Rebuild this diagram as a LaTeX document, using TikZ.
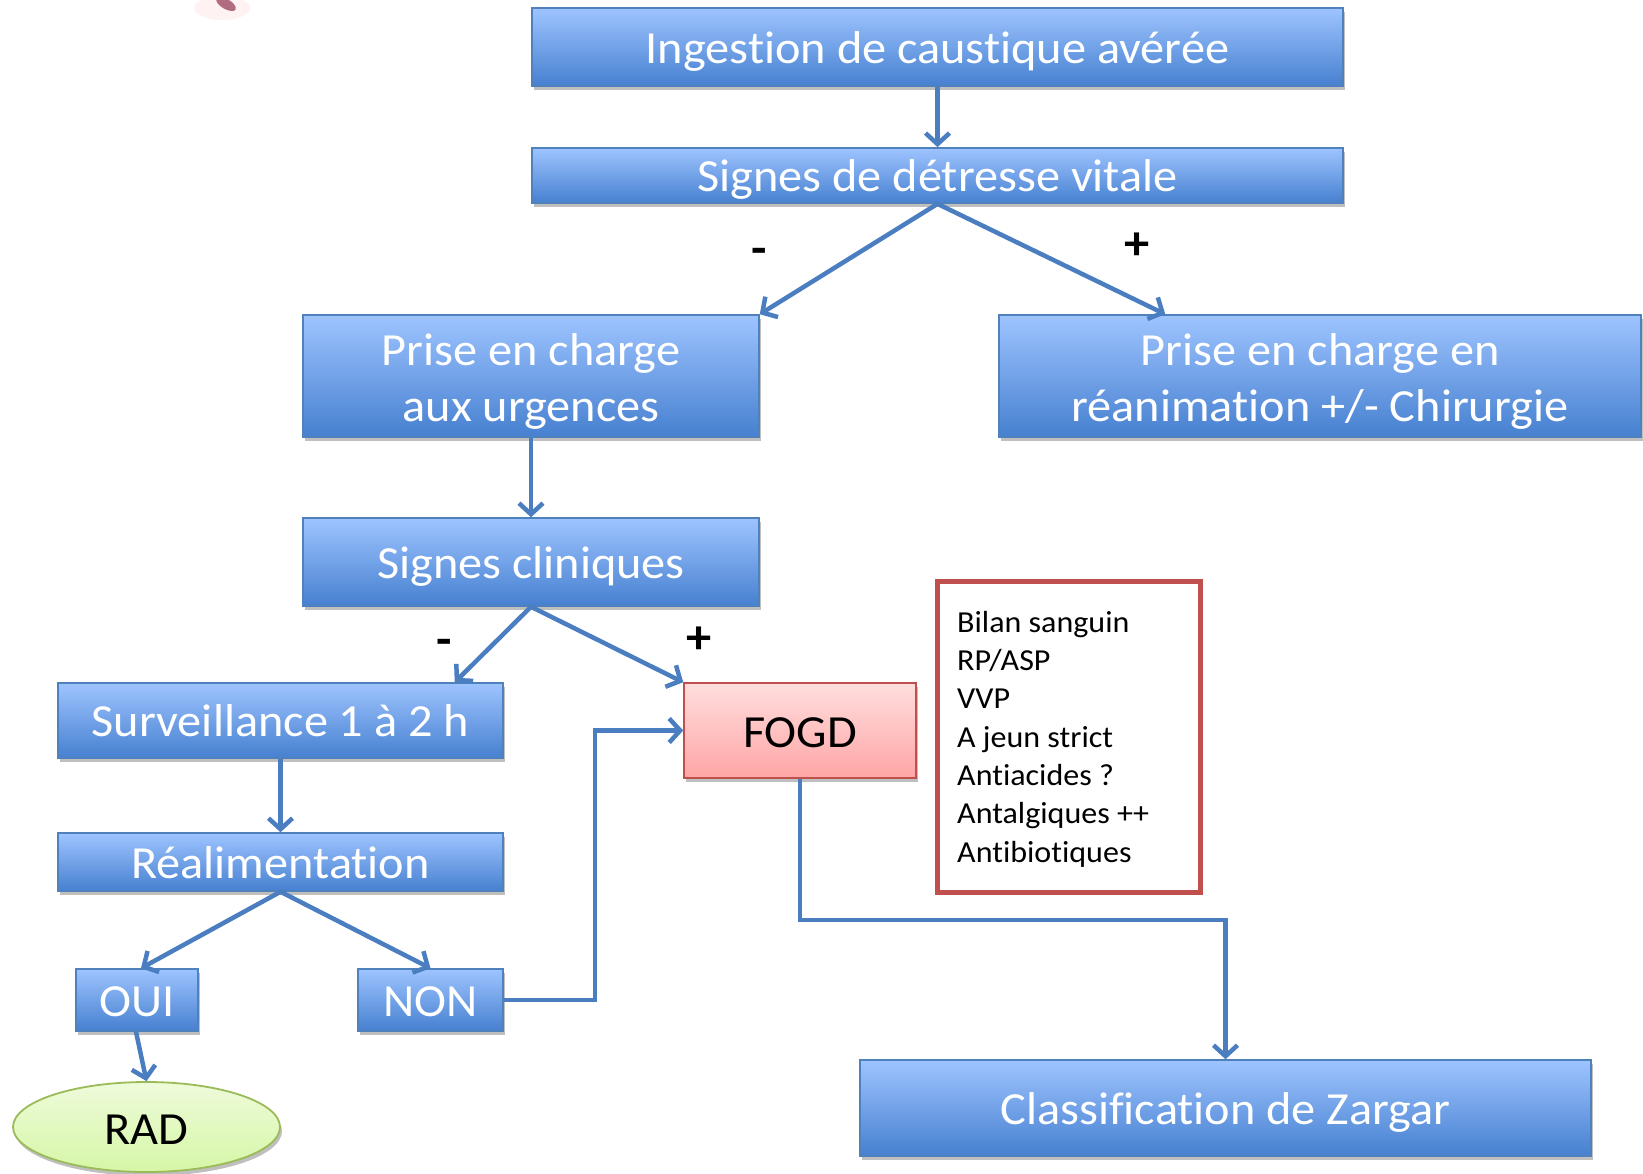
\documentclass[tikz,border=0pt]{standalone}
\usepackage{fontspec}
\setmainfont{Carlito}[FakeStretch=1.05, Ligatures=NoCommon]
\usetikzlibrary{arrows.meta,shadows,shapes.geometric}
\definecolor{bluetop}{RGB}{158,196,255}
\definecolor{bluebot}{RGB}{70,128,208}
\definecolor{blueedge}{RGB}{79,129,189}
\definecolor{arrowc}{RGB}{74,126,193}
\definecolor{redge}{RGB}{192,80,77}
\definecolor{pinktop}{RGB}{255,222,222}
\definecolor{pinkbot}{RGB}{255,165,165}
\definecolor{greentop}{RGB}{238,251,218}
\definecolor{greenbot}{RGB}{214,246,166}
\definecolor{greenedge}{RGB}{155,187,89}
\tikzset{
  vstrut/.style={execute at begin node={\rule[-0.25em]{0pt}{1.2em}},
                 execute at end node={\rule[-0.25em]{0pt}{0pt}}},
  vstrutb/.style={execute at begin node={\rule[-0.24em]{0pt}{1.22em}},
                 execute at end node={\rule[-0.24em]{0pt}{0pt}}},
  bluebox/.style={draw=blueedge, line width=1.5pt, top color=bluetop, bottom color=bluebot,
    text=white, inner sep=0pt, align=center, font=\fontsize{46}{55}\selectfont, vstrut,
    drop shadow={shadow xshift=2pt, shadow yshift=-4pt, opacity=0.25, fill=black}},
  fogdbox/.style={draw=redge, line width=1.5pt, top color=pinktop, bottom color=pinkbot,
    text=black, inner sep=0pt, font=\fontsize{46}{55}\selectfont, vstrutb,
    drop shadow={shadow xshift=2pt, shadow yshift=-4pt, opacity=0.25, fill=black}},
  listbox/.style={draw=redge, line width=5pt, fill=white, inner sep=0pt},
  radell/.style={ellipse, draw=greenedge, line width=1.8pt, top color=greentop, bottom color=greenbot,
    inner sep=0pt, font=\fontsize{46}{55}\selectfont, vstrutb,
    drop shadow={shadow xshift=2pt, shadow yshift=-4pt, opacity=0.25, fill=black}},
  arr/.style={draw=arrowc, line width=4.5pt, -{Straight Barb[length=11pt,width=24pt]}},
  sign/.style={font=\fontsize{48}{50}\selectfont\bfseries, inner sep=0pt},
}
\begin{document}
\begin{tikzpicture}[x=1pt,y=-1pt]
\useasboundingbox (0,0) rectangle (1643,1173);
% smudge
\fill[pink!35, opacity=0.6] (222,8) ellipse [x radius=28, y radius=12];
\fill[purple!60!black, opacity=0.55, rotate around={-30:(226,4)}] (226,4) ellipse [x radius=11, y radius=5];

\node[bluebox, minimum width=811, minimum height=78] (n1) at (937.5,47) {Ingestion de caustique avérée};
\node[bluebox, minimum width=811, minimum height=55] (n2) at (937.5,175.5) {Signes de détresse vitale};
\node[bluebox, minimum width=456, minimum height=122] (n3) at (531,376) {\rule{0pt}{1.02em}Prise en charge\\[1pt]aux urgences};
\node[bluebox, minimum width=642, minimum height=122] (n4) at (1320,376) {\rule{0pt}{1.02em}Prise en charge en\\[1pt]réanimation +/- Chirurgie};
\node[bluebox, minimum width=456, minimum height=88] (n5) at (531,562) {Signes cliniques};
\node[bluebox, minimum width=445, minimum height=75] (n6) at (280.5,720.5) {Surveillance 1 à 2 h};
\node[bluebox, minimum width=445, minimum height=58] (n7) at (280.5,862) {Réalimentation};
\node[bluebox, minimum width=122, minimum height=62] (oui) at (137,1000) {OUI};
\node[bluebox, minimum width=145, minimum height=62] (non) at (430.5,1000) {NON};
\node[radell, minimum width=267, minimum height=90] (rad) at (146.5,1127) {RAD};
\node[fogdbox, minimum width=232, minimum height=95] (fogd) at (800,730.5) {FOGD};
\node[listbox, minimum width=263, minimum height=311] (list) at (1068.5,736.5) {};
\node[anchor=north west, inner sep=0pt, align=left, font=\fontsize{30.5}{38.3}\selectfont] (listtxt) at (957,611)
  {Bilan sanguin\\RP/ASP\\VVP\\A jeun strict\\Antiacides ?\\Antalgiques ++\\Antibiotiques};
\node[bluebox, minimum width=731, minimum height=96] (zg) at (1225.5,1108) {Classification de Zargar};

\node[sign] (m1) at (759,256) {-};
\node[sign] (p1) at (1137,246) {+};
\node[sign] (m2) at (444,647) {-};
\node[sign] (p2) at (699,640) {+};

\draw[arr] (n1.south) -- (n2.north);
\draw[arr] (n2.south) -- (n3.north east);
\draw[arr] (n2.south) -- ([xshift=167pt]n4.north west);
\draw[arr] (n3.south) -- (n5.north);
\draw[arr] (n5.south) -- ([xshift=-49pt]n6.north east);
\draw[arr] (n5.south) -- (fogd.north west);
\draw[arr] (n6.south) -- (n7.north);
\draw[arr] (n7.south) -- ([xshift=4pt]oui.north);
\draw[arr] (n7.south) -- (non.north);
\draw[arr] ([xshift=-1pt]oui.south) -- (rad.north);
\draw[arr] (non.east) -- ++(91,0) |- (fogd.west);
\draw[arr] (fogd.south) -- ++(0,141) -| (zg.north);
\end{tikzpicture}
\end{document}
